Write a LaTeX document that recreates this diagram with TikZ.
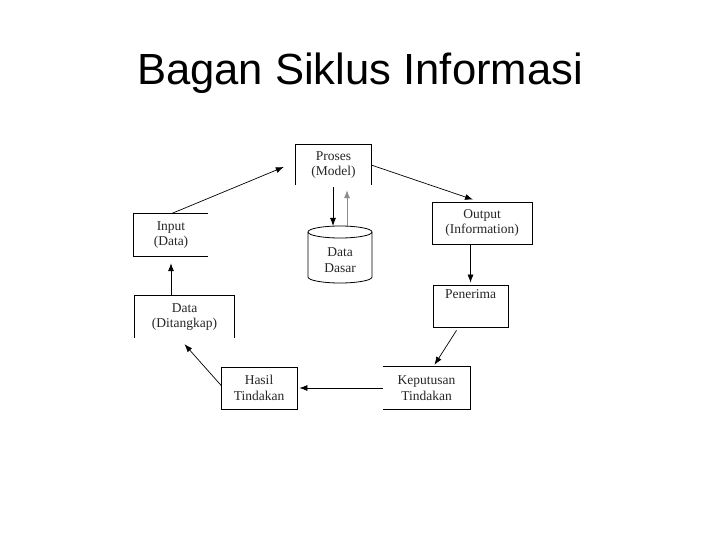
\documentclass[tikz,border=0pt]{standalone}
\usepackage{fontspec}
\setmainfont{Liberation Serif}
\newfontfamily\titlefont{Liberation Sans}
\usetikzlibrary{arrows.meta,calc}
\begin{document}
\begin{tikzpicture}[x=1pt,y=-1pt,
  lbl/.style={inner sep=0pt, align=center, font=\fontsize{13.5}{15.5}\selectfont, text=black!85},
  boxnode/.style={lbl, minimum height=42pt},
  fullbox/.style={boxnode, draw, line width=0.8pt},
  edge/.style={line width=0.8pt},
  arr/.style={-{Latex[length=8pt,width=6pt]}, line width=0.7pt}]
\fill[white] (0,0) rectangle (720,540);
\useasboundingbox (0,0) rectangle (720,540);

\node[anchor=base, font=\titlefont\fontsize{43.6}{50}\selectfont] (title) at (360,85) {Bagan Siklus Informasi};

% boxes
\node[boxnode, minimum width=75pt, minimum height=40pt] (proses) at (333.5,165) {Proses\\(Model)};
\node[boxnode, minimum width=74pt] (input) at (171,235) {Input\\(Data)};
\node[boxnode, minimum width=99pt] (ditangkap) at (184.5,317) {Data\\(Ditangkap)};
\node[fullbox, minimum width=76pt] (hasil) at (259,388) {Hasil\\Tindakan};
\node[boxnode, minimum width=87pt] (keputusan) at (426.5,388) {Keputusan\\Tindakan};
\node[fullbox, minimum width=100pt] (output) at (482,223) {Output\\(Information)};
\node[fullbox, minimum width=75pt] (penerima) at (470.5,306) {};
\node[lbl, anchor=north] (penerimatext) at ($(penerima.north)+(0,5)$) {Penerima};

% partial outlines
\draw[edge] (proses.south west) -- (proses.north west) -- (proses.north east) -- (proses.south east);
\draw[edge] (input.north east) -- (input.north west) -- (input.south west) -- (input.south east);
\draw[edge] (ditangkap.south west) -- (ditangkap.north west) -- (ditangkap.north east) -- (ditangkap.south east);
\draw[edge] (keputusan.north west) -- (keputusan.north east) -- (keputusan.south east) -- (keputusan.south west);

% database cylinder
\node[lbl] (dasar) at (340,260) {Data\\Dasar};
\draw[edge] (340,232) ellipse [x radius=32pt, y radius=6pt];
\draw[edge] (308,232) -- (308,277) arc[start angle=180, end angle=360, x radius=32pt, y radius=6pt] -- (372,232);
\coordinate (dbtopA) at (333,226);
\coordinate (dbtopB) at (347,226);

% connectors
\draw[arr] (ditangkap.north -| input) -- ($(input.south)+(0,7)$);
\draw[arr] (input.north) -- ($(proses.west)+(-12,2)$);
\draw[arr] (proses.east) -- ($(output.north)+(-9,-2)$);
\draw[arr] (output.south -| penerima) -- ($(penerima.north)+(0,-2)$);
\draw[arr] ($(penerima.south)+(-14,3)$) -- ($(keputusan.north)+(8,-2)$);
\draw[arr] (keputusan.west) -- ($(hasil.east)+(2,0)$);
\draw[arr] ($(hasil.west)+(1,-2)$) -- ($(ditangkap.south)+(0,6)$);
\draw[arr, line width=0.9pt] ($(proses.south -| dbtopA)+(0,2)$) -- (dbtopA);
\draw[arr, draw=black!45, fill=black] (dbtopB) -- ($(proses.south -| dbtopB)+(0,5)$);
\end{tikzpicture}
\end{document}
